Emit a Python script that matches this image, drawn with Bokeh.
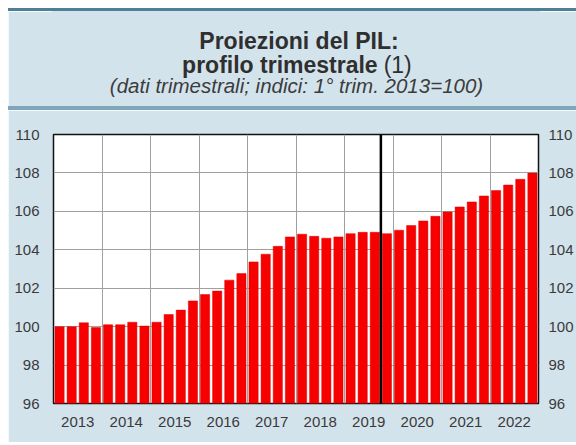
from bokeh.plotting import figure
from bokeh.layouts import column
from bokeh.models import FixedTicker, Span, LinearAxis, Div, Range1d
from bokeh.core.properties import value
from bokeh.embed import file_html
from bokeh.resources import INLINE

# ---- data ----
years = ["2013", "2014", "2015", "2016", "2017", "2018", "2019", "2020", "2021", "2022"]
gdp_index = [100.0, 100.0, 100.2, 99.95, 100.1, 100.1, 100.23, 100.03,
             100.23, 100.63, 100.86, 101.34, 101.67, 101.85, 102.42, 102.76,
             103.37, 103.77, 104.18, 104.67, 104.81, 104.70, 104.60, 104.67,
             104.84, 104.91, 104.91, 104.84, 105.02, 105.26, 105.50, 105.74,
             105.97, 106.23, 106.49, 106.80, 107.08, 107.37, 107.67, 107.99]
y_ticks = [96, 98, 100, 102, 104, 106, 108, 110]
projection_start_quarter = 27.5   # between Q3 and Q4 2019

title_line1 = "Proiezioni del PIL:"
title_line2_bold = "profilo trimestrale"
title_line2_note = "(1)"
subtitle = "(dati trimestrali; indici: 1° trim. 2013=100)"

BG = "#d3e3ec"
FONT = "Liberation Sans"
W = 568
BL, BR = 45, 36

# ---- header (text coordinates = page pixels) ----
HDR_TOP, HDR_BOT = 11, 106
hdr = figure(width=W, height=HDR_BOT - HDR_TOP,
             x_range=Range1d(8 + BL, 8 + W - BR),
             y_range=Range1d(HDR_BOT, HDR_TOP),
             x_axis_type=None, y_axis_type=None, toolbar_location=None,
             output_backend="svg", min_border_left=BL, min_border_right=BR,
             min_border_top=0, min_border_bottom=0)
hdr.background_fill_color = BG
hdr.border_fill_color = BG
hdr.outline_line_color = BG
hdr.outline_line_width = 3
hdr.grid.visible = False
hdr.margin = (0, 0, 0, 0)
TC = "#2f2f2f"
hdr.text(x=[299.5], y=[40.5], text=[title_line1], text_align="center",
         text_baseline="alphabetic", text_font=value(FONT), text_font_style="bold",
         text_font_size="23px", text_color=TC)
hdr.text(x=[378.5], y=[64.5], text=[title_line2_bold], text_align="right",
         text_baseline="alphabetic", text_font=value(FONT), text_font_style="bold",
         text_font_size="23px", text_color=TC)
hdr.text(x=[384.5], y=[64.5], text=[title_line2_note], text_align="left",
         text_baseline="alphabetic", text_font=value(FONT), text_font_style="normal",
         text_font_size="23px", text_color=TC)
hdr.text(x=[297], y=[85], text=[subtitle], text_align="center",
         text_baseline="alphabetic", text_font=value(FONT), text_font_style="italic",
         text_font_size="20.5px", text_color="#3c3c3c")

top_line = Div(text="", width=W, height=3, margin=(0, 0, 0, 0),
               styles={"background-color": "#4f7f95", "height": "3px"})
bot_line = Div(text="", width=W, height=4, margin=(0, 0, 0, 0),
               styles={"background-color": "#7fa6ba", "height": "4px"})

# ---- chart ----
n = len(gdp_index)
FH = 269
BT = 24
H = 332
p = figure(width=W, height=H, x_range=(0.5, n + 0.5), y_range=(y_ticks[0], y_ticks[-1]),
           toolbar_location=None, output_backend="svg",
           min_border_left=BL, min_border_right=BR, min_border_top=BT,
           min_border_bottom=H - BT - FH)
p.margin = (0, 0, 0, 0)
p.background_fill_color = "white"
p.border_fill_color = BG
p.outline_line_color = "#111111"
p.outline_line_width = 1.5

xq = list(range(1, n + 1))
p.vbar(x=xq, top=gdp_index, bottom=y_ticks[0], width=0.76,
       fill_color="#f70000", line_color="#e00000", line_width=0.5)

p.add_layout(Span(location=projection_start_quarter, dimension="height",
                  line_color="black", line_width=2.5))

p.xgrid.ticker = FixedTicker(ticks=[0.5 + 4 * i for i in range(1, len(years))])
p.ygrid.ticker = FixedTicker(ticks=y_ticks)
p.grid.grid_line_color = "#a0a0a0"
p.grid.grid_line_width = 1

centers = [2.5 + 4 * i for i in range(len(years))]
p.xaxis.ticker = FixedTicker(ticks=centers)
p.xaxis.major_label_overrides = {c: y for c, y in zip(centers, years)}
p.yaxis.ticker = FixedTicker(ticks=y_ticks)
p.add_layout(LinearAxis(ticker=FixedTicker(ticks=y_ticks)), "right")
for ax in list(p.xaxis) + list(p.yaxis):
    ax.axis_line_color = None
    ax.major_tick_line_color = None
    ax.minor_tick_line_color = None
    ax.major_tick_out = 0
    ax.major_tick_in = 0
    ax.minor_tick_out = 0
    ax.minor_tick_in = 0
    ax.major_label_text_font = FONT
    ax.major_label_text_font_size = "15px"
    ax.major_label_text_color = "#3a3a3a"
p.xaxis.major_label_standoff = 13
p.yaxis[0].major_label_standoff = 14
p.yaxis[1].major_label_standoff = 10

layout = column(top_line, hdr, bot_line, p, spacing=0)
layout.margin = (8, 0, 0, 8)
open("out.html", "w").write(file_html(layout, INLINE))
